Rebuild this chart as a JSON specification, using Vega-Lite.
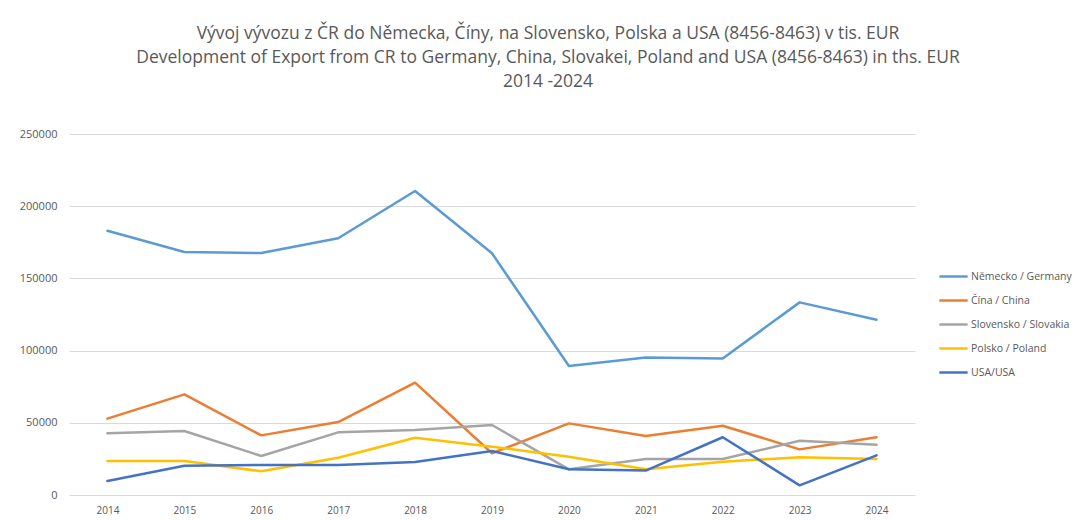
{
  "$schema": "https://vega.github.io/schema/vega-lite/v6.json",
  "autosize": "none",
  "width": 846,
  "height": 361,
  "padding": {"left": 69, "top": 134, "right": 159, "bottom": 25},
  "background": "white",
  "title": {
    "text": ["Vývoj vývozu z ČR do Německa, Číny, na Slovensko, Polska a USA (8456-8463) v tis. EUR", "Development of Export from CR to Germany, China, Slovakei, Poland and USA (8456-8463) in ths. EUR", "2014 -2024"],
    "font": "Open Sans",
    "fontSize": 17.5,
    "fontWeight": "normal",
    "color": "#595959",
    "lineHeight": 24,
    "anchor": "middle",
    "frame": "group",
    "offset": 38,
    "dx": 56
  },
  "data": {
    "values": [
      {"year": "2014", "country": "Německo / Germany", "value": 183000},
      {"year": "2015", "country": "Německo / Germany", "value": 168300},
      {"year": "2016", "country": "Německo / Germany", "value": 167600},
      {"year": "2017", "country": "Německo / Germany", "value": 177800},
      {"year": "2018", "country": "Německo / Germany", "value": 210500},
      {"year": "2019", "country": "Německo / Germany", "value": 167400},
      {"year": "2020", "country": "Německo / Germany", "value": 89300},
      {"year": "2021", "country": "Německo / Germany", "value": 95300},
      {"year": "2022", "country": "Německo / Germany", "value": 94600},
      {"year": "2023", "country": "Německo / Germany", "value": 133400},
      {"year": "2024", "country": "Německo / Germany", "value": 121400},
      {"year": "2014", "country": "Čína / China", "value": 52900},
      {"year": "2015", "country": "Čína / China", "value": 69700},
      {"year": "2016", "country": "Čína / China", "value": 41300},
      {"year": "2017", "country": "Čína / China", "value": 50500},
      {"year": "2018", "country": "Čína / China", "value": 77800},
      {"year": "2019", "country": "Čína / China", "value": 28900},
      {"year": "2020", "country": "Čína / China", "value": 49600},
      {"year": "2021", "country": "Čína / China", "value": 40900},
      {"year": "2022", "country": "Čína / China", "value": 48000},
      {"year": "2023", "country": "Čína / China", "value": 31600},
      {"year": "2024", "country": "Čína / China", "value": 40000},
      {"year": "2014", "country": "Slovensko / Slovakia", "value": 42700},
      {"year": "2015", "country": "Slovensko / Slovakia", "value": 44300},
      {"year": "2016", "country": "Slovensko / Slovakia", "value": 27000},
      {"year": "2017", "country": "Slovensko / Slovakia", "value": 43400},
      {"year": "2018", "country": "Slovensko / Slovakia", "value": 45000},
      {"year": "2019", "country": "Slovensko / Slovakia", "value": 48500},
      {"year": "2020", "country": "Slovensko / Slovakia", "value": 17800},
      {"year": "2021", "country": "Slovensko / Slovakia", "value": 24900},
      {"year": "2022", "country": "Slovensko / Slovakia", "value": 24900},
      {"year": "2023", "country": "Slovensko / Slovakia", "value": 37600},
      {"year": "2024", "country": "Slovensko / Slovakia", "value": 34800},
      {"year": "2014", "country": "Polsko / Poland", "value": 23500},
      {"year": "2015", "country": "Polsko / Poland", "value": 23500},
      {"year": "2016", "country": "Polsko / Poland", "value": 16400},
      {"year": "2017", "country": "Polsko / Poland", "value": 25800},
      {"year": "2018", "country": "Polsko / Poland", "value": 39700},
      {"year": "2019", "country": "Polsko / Poland", "value": 33400},
      {"year": "2020", "country": "Polsko / Poland", "value": 26500},
      {"year": "2021", "country": "Polsko / Poland", "value": 17800},
      {"year": "2022", "country": "Polsko / Poland", "value": 23100},
      {"year": "2023", "country": "Polsko / Poland", "value": 26100},
      {"year": "2024", "country": "Polsko / Poland", "value": 24900},
      {"year": "2014", "country": "USA/USA", "value": 9700},
      {"year": "2015", "country": "USA/USA", "value": 20300},
      {"year": "2016", "country": "USA/USA", "value": 20800},
      {"year": "2017", "country": "USA/USA", "value": 20800},
      {"year": "2018", "country": "USA/USA", "value": 22900},
      {"year": "2019", "country": "USA/USA", "value": 30500},
      {"year": "2020", "country": "USA/USA", "value": 17800},
      {"year": "2021", "country": "USA/USA", "value": 16900},
      {"year": "2022", "country": "USA/USA", "value": 40000},
      {"year": "2023", "country": "USA/USA", "value": 6700},
      {"year": "2024", "country": "USA/USA", "value": 27500}
    ]
  },
  "mark": {"type": "line", "strokeWidth": 2.5, "strokeCap": "round", "strokeJoin": "round"},
  "encoding": {
    "x": {
      "field": "year",
      "type": "ordinal",
      "scale": {"type": "point", "padding": 0.5},
      "axis": {
        "title": null,
        "labelAngle": 0,
        "labelFont": "Open Sans",
        "labelFontSize": 10,
        "labelColor": "#595959",
        "domain": false,
        "ticks": false,
        "labelPadding": 10
      }
    },
    "y": {
      "field": "value",
      "type": "quantitative",
      "scale": {"domain": [0, 250000], "nice": false},
      "axis": {
        "title": null,
        "values": [0, 50000, 100000, 150000, 200000, 250000],
        "format": "d",
        "labelFont": "Open Sans",
        "labelFontSize": 11,
        "labelColor": "#595959",
        "domain": false,
        "ticks": false,
        "labelPadding": 12,
        "gridColor": "#d9d9d9",
        "gridWidth": 1
      }
    },
    "color": {
      "field": "country",
      "type": "nominal",
      "sort": ["Německo / Germany", "Čína / China", "Slovensko / Slovakia", "Polsko / Poland", "USA/USA"],
      "scale": {
        "domain": ["Německo / Germany", "Čína / China", "Slovensko / Slovakia", "Polsko / Poland", "USA/USA"],
        "range": ["#5B9BD5", "#ED7D31", "#A5A5A5", "#FFC000", "#4472C4"]
      },
      "legend": {
        "title": null,
        "orient": "none",
        "legendX": 869,
        "legendY": 127,
        "symbolType": "stroke",
        "symbolStrokeWidth": 2.5,
        "symbolSize": 800,
        "rowPadding": 3,
        "labelFont": "Open Sans",
        "labelFontSize": 10.5,
        "labelColor": "#595959",
        "labelOffset": 2,
        "labelLimit": 200
      }
    }
  },
  "config": {
    "view": {"stroke": null}
  }
}
